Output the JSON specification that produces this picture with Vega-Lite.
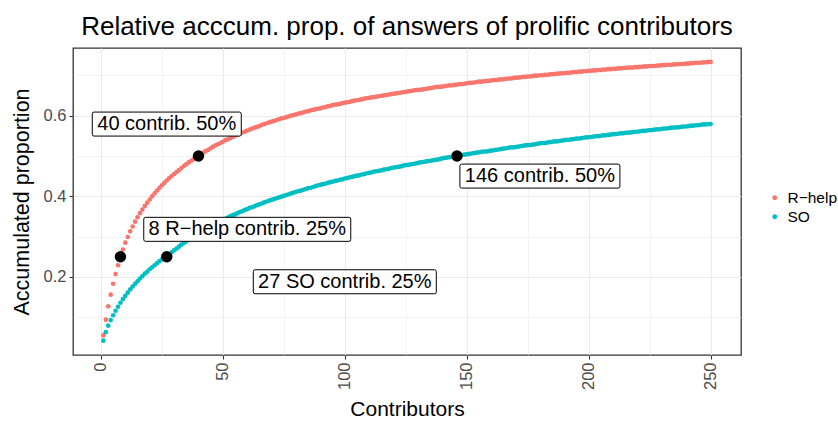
{
"$schema": "https://vega.github.io/schema/vega-lite/v6.json",
"width": 668,
"height": 307,
"autosize": {"type": "none"},
"padding": {"left": 73, "top": 48, "right": 97, "bottom": 66},
"background": "white",
"title": {"text": "Relative acccum. prop. of answers of prolific contributors", "font": "Liberation Sans", "fontSize": 26, "fontWeight": "normal", "color": "black", "anchor": "middle", "offset": 8},
"config": {"view": {"stroke": "#333333", "strokeWidth": 1.3}, "font": "Liberation Sans"},
"datasets": {
"curves": [
{"x":1,"R−help":0.055,"SO":0.042},{"x":2,"R−help":0.094,"SO":0.063},{"x":3,"R−help":0.127,"SO":0.079},{"x":4,"R−help":0.156,"SO":0.093},{"x":5,"R−help":0.183,"SO":0.105},
{"x":6,"R−help":0.207,"SO":0.116},{"x":7,"R−help":0.229,"SO":0.126},{"x":8,"R−help":0.250,"SO":0.136},{"x":9,"R−help":0.268,"SO":0.145},{"x":10,"R−help":0.285,"SO":0.153},
{"x":11,"R−help":0.299,"SO":0.161},{"x":12,"R−help":0.313,"SO":0.169},{"x":13,"R−help":0.325,"SO":0.176},{"x":14,"R−help":0.337,"SO":0.183},{"x":15,"R−help":0.348,"SO":0.189},
{"x":16,"R−help":0.358,"SO":0.196},{"x":17,"R−help":0.367,"SO":0.202},{"x":18,"R−help":0.376,"SO":0.208},{"x":19,"R−help":0.384,"SO":0.213},{"x":20,"R−help":0.392,"SO":0.219},
{"x":21,"R−help":0.400,"SO":0.224},{"x":22,"R−help":0.407,"SO":0.229},{"x":23,"R−help":0.414,"SO":0.234},{"x":24,"R−help":0.421,"SO":0.239},{"x":25,"R−help":0.427,"SO":0.243},
{"x":26,"R−help":0.433,"SO":0.247},{"x":27,"R−help":0.439,"SO":0.251},{"x":28,"R−help":0.445,"SO":0.255},{"x":29,"R−help":0.450,"SO":0.261},{"x":30,"R−help":0.455,"SO":0.266},
{"x":31,"R−help":0.460,"SO":0.270},{"x":32,"R−help":0.465,"SO":0.275},{"x":33,"R−help":0.470,"SO":0.280},{"x":34,"R−help":0.475,"SO":0.284},{"x":35,"R−help":0.479,"SO":0.288},
{"x":36,"R−help":0.484,"SO":0.293},{"x":37,"R−help":0.488,"SO":0.297},{"x":38,"R−help":0.492,"SO":0.301},{"x":39,"R−help":0.496,"SO":0.304},{"x":40,"R−help":0.500,"SO":0.308},
{"x":41,"R−help":0.504,"SO":0.312},{"x":42,"R−help":0.508,"SO":0.315},{"x":43,"R−help":0.512,"SO":0.319},{"x":44,"R−help":0.515,"SO":0.322},{"x":45,"R−help":0.519,"SO":0.326},
{"x":46,"R−help":0.523,"SO":0.329},{"x":47,"R−help":0.526,"SO":0.332},{"x":48,"R−help":0.529,"SO":0.335},{"x":49,"R−help":0.532,"SO":0.338},{"x":50,"R−help":0.535,"SO":0.341},
{"x":51,"R−help":0.539,"SO":0.344},{"x":52,"R−help":0.541,"SO":0.347},{"x":53,"R−help":0.544,"SO":0.350},{"x":54,"R−help":0.547,"SO":0.353},{"x":55,"R−help":0.550,"SO":0.355},
{"x":56,"R−help":0.552,"SO":0.358},{"x":57,"R−help":0.555,"SO":0.361},{"x":58,"R−help":0.558,"SO":0.363},{"x":59,"R−help":0.560,"SO":0.366},{"x":60,"R−help":0.563,"SO":0.368},
{"x":61,"R−help":0.565,"SO":0.371},{"x":62,"R−help":0.568,"SO":0.373},{"x":63,"R−help":0.570,"SO":0.375},{"x":64,"R−help":0.572,"SO":0.378},{"x":65,"R−help":0.574,"SO":0.380},
{"x":66,"R−help":0.577,"SO":0.382},{"x":67,"R−help":0.579,"SO":0.385},{"x":68,"R−help":0.581,"SO":0.387},{"x":69,"R−help":0.583,"SO":0.389},{"x":70,"R−help":0.585,"SO":0.391},
{"x":71,"R−help":0.587,"SO":0.393},{"x":72,"R−help":0.589,"SO":0.395},{"x":73,"R−help":0.591,"SO":0.397},{"x":74,"R−help":0.593,"SO":0.399},{"x":75,"R−help":0.594,"SO":0.401},
{"x":76,"R−help":0.596,"SO":0.403},{"x":77,"R−help":0.598,"SO":0.405},{"x":78,"R−help":0.600,"SO":0.407},{"x":79,"R−help":0.601,"SO":0.409},{"x":80,"R−help":0.603,"SO":0.411},
{"x":81,"R−help":0.605,"SO":0.413},{"x":82,"R−help":0.606,"SO":0.414},{"x":83,"R−help":0.608,"SO":0.416},{"x":84,"R−help":0.610,"SO":0.418},{"x":85,"R−help":0.611,"SO":0.420},
{"x":86,"R−help":0.613,"SO":0.421},{"x":87,"R−help":0.614,"SO":0.423},{"x":88,"R−help":0.616,"SO":0.425},{"x":89,"R−help":0.617,"SO":0.427},{"x":90,"R−help":0.618,"SO":0.428},
{"x":91,"R−help":0.620,"SO":0.430},{"x":92,"R−help":0.621,"SO":0.431},{"x":93,"R−help":0.623,"SO":0.433},{"x":94,"R−help":0.624,"SO":0.435},{"x":95,"R−help":0.626,"SO":0.436},
{"x":96,"R−help":0.627,"SO":0.438},{"x":97,"R−help":0.628,"SO":0.439},{"x":98,"R−help":0.629,"SO":0.441},{"x":99,"R−help":0.631,"SO":0.442},{"x":100,"R−help":0.632,"SO":0.444},
{"x":101,"R−help":0.633,"SO":0.445},{"x":102,"R−help":0.634,"SO":0.447},{"x":103,"R−help":0.636,"SO":0.448},{"x":104,"R−help":0.637,"SO":0.450},{"x":105,"R−help":0.638,"SO":0.451},
{"x":106,"R−help":0.639,"SO":0.452},{"x":107,"R−help":0.640,"SO":0.454},{"x":108,"R−help":0.642,"SO":0.455},{"x":109,"R−help":0.643,"SO":0.457},{"x":110,"R−help":0.644,"SO":0.458},
{"x":111,"R−help":0.645,"SO":0.459},{"x":112,"R−help":0.646,"SO":0.461},{"x":113,"R−help":0.647,"SO":0.462},{"x":114,"R−help":0.648,"SO":0.463},{"x":115,"R−help":0.649,"SO":0.464},
{"x":116,"R−help":0.650,"SO":0.466},{"x":117,"R−help":0.651,"SO":0.467},{"x":118,"R−help":0.652,"SO":0.468},{"x":119,"R−help":0.653,"SO":0.470},{"x":120,"R−help":0.654,"SO":0.471},
{"x":121,"R−help":0.655,"SO":0.472},{"x":122,"R−help":0.656,"SO":0.473},{"x":123,"R−help":0.657,"SO":0.474},{"x":124,"R−help":0.658,"SO":0.476},{"x":125,"R−help":0.659,"SO":0.477},
{"x":126,"R−help":0.660,"SO":0.478},{"x":127,"R−help":0.661,"SO":0.479},{"x":128,"R−help":0.662,"SO":0.480},{"x":129,"R−help":0.663,"SO":0.481},{"x":130,"R−help":0.664,"SO":0.483},
{"x":131,"R−help":0.664,"SO":0.484},{"x":132,"R−help":0.665,"SO":0.485},{"x":133,"R−help":0.666,"SO":0.486},{"x":134,"R−help":0.667,"SO":0.487},{"x":135,"R−help":0.668,"SO":0.488},
{"x":136,"R−help":0.669,"SO":0.489},{"x":137,"R−help":0.670,"SO":0.490},{"x":138,"R−help":0.671,"SO":0.491},{"x":139,"R−help":0.671,"SO":0.492},{"x":140,"R−help":0.672,"SO":0.494},
{"x":141,"R−help":0.673,"SO":0.495},{"x":142,"R−help":0.674,"SO":0.496},{"x":143,"R−help":0.675,"SO":0.497},{"x":144,"R−help":0.675,"SO":0.498},{"x":145,"R−help":0.676,"SO":0.499},
{"x":146,"R−help":0.677,"SO":0.500},{"x":147,"R−help":0.678,"SO":0.501},{"x":148,"R−help":0.678,"SO":0.502},{"x":149,"R−help":0.679,"SO":0.503},{"x":150,"R−help":0.680,"SO":0.504},
{"x":151,"R−help":0.681,"SO":0.505},{"x":152,"R−help":0.681,"SO":0.506},{"x":153,"R−help":0.682,"SO":0.507},{"x":154,"R−help":0.683,"SO":0.508},{"x":155,"R−help":0.684,"SO":0.509},
{"x":156,"R−help":0.684,"SO":0.510},{"x":157,"R−help":0.685,"SO":0.511},{"x":158,"R−help":0.686,"SO":0.511},{"x":159,"R−help":0.686,"SO":0.512},{"x":160,"R−help":0.687,"SO":0.513},
{"x":161,"R−help":0.688,"SO":0.514},{"x":162,"R−help":0.688,"SO":0.515},{"x":163,"R−help":0.689,"SO":0.516},{"x":164,"R−help":0.690,"SO":0.517},{"x":165,"R−help":0.690,"SO":0.518},
{"x":166,"R−help":0.691,"SO":0.519},{"x":167,"R−help":0.692,"SO":0.520},{"x":168,"R−help":0.692,"SO":0.521},{"x":169,"R−help":0.693,"SO":0.521},{"x":170,"R−help":0.694,"SO":0.522},
{"x":171,"R−help":0.694,"SO":0.523},{"x":172,"R−help":0.695,"SO":0.524},{"x":173,"R−help":0.696,"SO":0.525},{"x":174,"R−help":0.696,"SO":0.526},{"x":175,"R−help":0.697,"SO":0.527},
{"x":176,"R−help":0.697,"SO":0.527},{"x":177,"R−help":0.698,"SO":0.528},{"x":178,"R−help":0.699,"SO":0.529},{"x":179,"R−help":0.699,"SO":0.530},{"x":180,"R−help":0.700,"SO":0.531},
{"x":181,"R−help":0.700,"SO":0.532},{"x":182,"R−help":0.701,"SO":0.532},{"x":183,"R−help":0.701,"SO":0.533},{"x":184,"R−help":0.702,"SO":0.534},{"x":185,"R−help":0.703,"SO":0.535},
{"x":186,"R−help":0.703,"SO":0.536},{"x":187,"R−help":0.704,"SO":0.536},{"x":188,"R−help":0.704,"SO":0.537},{"x":189,"R−help":0.705,"SO":0.538},{"x":190,"R−help":0.705,"SO":0.539},
{"x":191,"R−help":0.706,"SO":0.540},{"x":192,"R−help":0.706,"SO":0.540},{"x":193,"R−help":0.707,"SO":0.541},{"x":194,"R−help":0.708,"SO":0.542},{"x":195,"R−help":0.708,"SO":0.543},
{"x":196,"R−help":0.709,"SO":0.543},{"x":197,"R−help":0.709,"SO":0.544},{"x":198,"R−help":0.710,"SO":0.545},{"x":199,"R−help":0.710,"SO":0.546},{"x":200,"R−help":0.711,"SO":0.546},
{"x":201,"R−help":0.711,"SO":0.547},{"x":202,"R−help":0.712,"SO":0.548},{"x":203,"R−help":0.712,"SO":0.549},{"x":204,"R−help":0.713,"SO":0.549},{"x":205,"R−help":0.713,"SO":0.550},
{"x":206,"R−help":0.714,"SO":0.551},{"x":207,"R−help":0.714,"SO":0.551},{"x":208,"R−help":0.715,"SO":0.552},{"x":209,"R−help":0.715,"SO":0.553},{"x":210,"R−help":0.716,"SO":0.554},
{"x":211,"R−help":0.716,"SO":0.554},{"x":212,"R−help":0.717,"SO":0.555},{"x":213,"R−help":0.717,"SO":0.556},{"x":214,"R−help":0.718,"SO":0.556},{"x":215,"R−help":0.718,"SO":0.557},
{"x":216,"R−help":0.719,"SO":0.558},{"x":217,"R−help":0.719,"SO":0.558},{"x":218,"R−help":0.719,"SO":0.559},{"x":219,"R−help":0.720,"SO":0.560},{"x":220,"R−help":0.720,"SO":0.560},
{"x":221,"R−help":0.721,"SO":0.561},{"x":222,"R−help":0.721,"SO":0.562},{"x":223,"R−help":0.722,"SO":0.562},{"x":224,"R−help":0.722,"SO":0.563},{"x":225,"R−help":0.723,"SO":0.564},
{"x":226,"R−help":0.723,"SO":0.564},{"x":227,"R−help":0.723,"SO":0.565},{"x":228,"R−help":0.724,"SO":0.566},{"x":229,"R−help":0.724,"SO":0.566},{"x":230,"R−help":0.725,"SO":0.567},
{"x":231,"R−help":0.725,"SO":0.568},{"x":232,"R−help":0.726,"SO":0.568},{"x":233,"R−help":0.726,"SO":0.569},{"x":234,"R−help":0.726,"SO":0.570},{"x":235,"R−help":0.727,"SO":0.570},
{"x":236,"R−help":0.727,"SO":0.571},{"x":237,"R−help":0.728,"SO":0.571},{"x":238,"R−help":0.728,"SO":0.572},{"x":239,"R−help":0.728,"SO":0.573},{"x":240,"R−help":0.729,"SO":0.573},
{"x":241,"R−help":0.729,"SO":0.574},{"x":242,"R−help":0.730,"SO":0.575},{"x":243,"R−help":0.730,"SO":0.575},{"x":244,"R−help":0.731,"SO":0.576},{"x":245,"R−help":0.731,"SO":0.576},
{"x":246,"R−help":0.731,"SO":0.577},{"x":247,"R−help":0.732,"SO":0.578},{"x":248,"R−help":0.732,"SO":0.578},{"x":249,"R−help":0.733,"SO":0.579},{"x":250,"R−help":0.733,"SO":0.579}
],
"marks": [
{"x":8,"y":0.25},{"x":40,"y":0.5},{"x":27,"y":0.25},{"x":146,"y":0.5}
],
"labels": [
{"label":"40 contrib. 50%","x":27,"y":0.579},
{"label":"8 R−help contrib. 25%","x":60,"y":0.318},
{"label":"27 SO contrib. 25%","x":100,"y":0.188},
{"label":"146 contrib. 50%","x":180,"y":0.45}
]
},
"layer": [
{
"data": {"name": "curves"},
"transform": [{"fold": ["R−help", "SO"], "as": ["series", "y"]}],
"mark": {"type": "point", "filled": true, "size": 22, "opacity": 1},
"encoding": {
"x": {"field": "x", "type": "quantitative", "title": "Contributors",
"scale": {"domain": [-11.45, 262.45], "nice": false, "zero": false},
"axis": {"values": [0,25,50,75,100,125,150,175,200,225,250],
"labelExpr": "datum.value % 50 === 0 ? datum.label : ''",
"labelAngle": 270, "labelFontSize": 16.5, "labelColor": "#4D4D4D", "labelFont": "Liberation Sans", "labelPadding": 3,
"tickColor": "#333333", "tickSize": 4, "tickWidth": 1.1,
"tickOpacity": {"condition": {"test": "datum.value % 50 !== 0", "value": 0}, "value": 1},
"gridColor": "#EBEBEB",
"gridWidth": {"condition": {"test": "datum.value % 50 !== 0", "value": 0.55}, "value": 1.1},
"domain": false, "titleFontSize": 21, "titleFont": "Liberation Sans", "titleFontWeight": "normal", "titleColor": "black", "titlePadding": 9}},
"y": {"field": "y", "type": "quantitative", "title": "Accumulated proportion",
"scale": {"domain": [0.0064, 0.7676], "nice": false, "zero": false},
"axis": {"values": [0.1,0.2,0.3,0.4,0.5,0.6,0.7],
"labelExpr": "round(datum.value*10) % 2 === 0 ? format(datum.value, '.1f') : ''",
"labelFontSize": 16.5, "labelColor": "#4D4D4D", "labelFont": "Liberation Sans", "labelPadding": 3,
"tickColor": "#333333", "tickSize": 4, "tickWidth": 1.1,
"tickOpacity": {"condition": {"test": "round(datum.value*10) % 2 === 1", "value": 0}, "value": 1},
"gridColor": "#EBEBEB",
"gridWidth": {"condition": {"test": "round(datum.value*10) % 2 === 1", "value": 0.55}, "value": 1.1},
"domain": false, "titleFontSize": 21.5, "titleFont": "Liberation Sans", "titleFontWeight": "normal", "titleColor": "black", "titlePadding": 10}},
"color": {"field": "series", "type": "nominal",
"scale": {"domain": ["R−help", "SO"], "range": ["#F8766D", "#00BFC4"]},
"legend": {"title": null, "orient": "none", "legendX": 694, "legendY": 142, "padding": 0,
"labelFontSize": 15.5, "labelFont": "Liberation Sans", "labelColor": "black",
"symbolType": "circle", "symbolSize": 24, "symbolStrokeWidth": 0, "labelOffset": 5, "rowPadding": 2}}
}
},
{
"data": {"name": "marks"},
"mark": {"type": "point", "filled": true, "size": 130, "color": "black", "opacity": 1},
"encoding": {"x": {"field": "x", "type": "quantitative"}, "y": {"field": "y", "type": "quantitative"}}
},
{
"data": {"name": "labels"},
"mark": {"type": "point", "filled": true, "fill": "white", "stroke": "black", "strokeWidth": 1, "size": 576, "opacity": 1},
"encoding": {
"x": {"field": "x", "type": "quantitative"},
"y": {"field": "y", "type": "quantitative"},
"shape": {"field": "label", "type": "nominal", "legend": null,
"scale": {"domain": ["40 contrib. 50%", "8 R−help contrib. 25%", "27 SO contrib. 25%", "146 contrib. 50%"],
"range": [
"M-6.058,-1H6.058Q6.208,-1 6.208,-0.85V0.85Q6.208,1 6.058,1H-6.058Q-6.208,1 -6.208,0.85V-0.85Q-6.208,-1 -6.058,-1Z",
"M-8.475,-1H8.475Q8.625,-1 8.625,-0.85V0.85Q8.625,1 8.475,1H-8.475Q-8.625,1 -8.625,0.85V-0.85Q-8.625,-1 -8.475,-1Z",
"M-7.475,-1H7.475Q7.625,-1 7.625,-0.85V0.85Q7.625,1 7.475,1H-7.475Q-7.625,1 -7.625,0.85V-0.85Q-7.625,-1 -7.475,-1Z",
"M-6.517,-1H6.517Q6.667,-1 6.667,-0.85V0.85Q6.667,1 6.517,1H-6.517Q-6.667,1 -6.667,0.85V-0.85Q-6.667,-1 -6.517,-1Z"
]}}
}
},
{
"data": {"name": "labels"},
"mark": {"type": "text", "font": "Liberation Sans", "fontSize": 20, "color": "black", "align": "center", "baseline": "middle"},
"encoding": {
"x": {"field": "x", "type": "quantitative"},
"y": {"field": "y", "type": "quantitative"},
"text": {"field": "label", "type": "nominal"}
}
}
]
}
